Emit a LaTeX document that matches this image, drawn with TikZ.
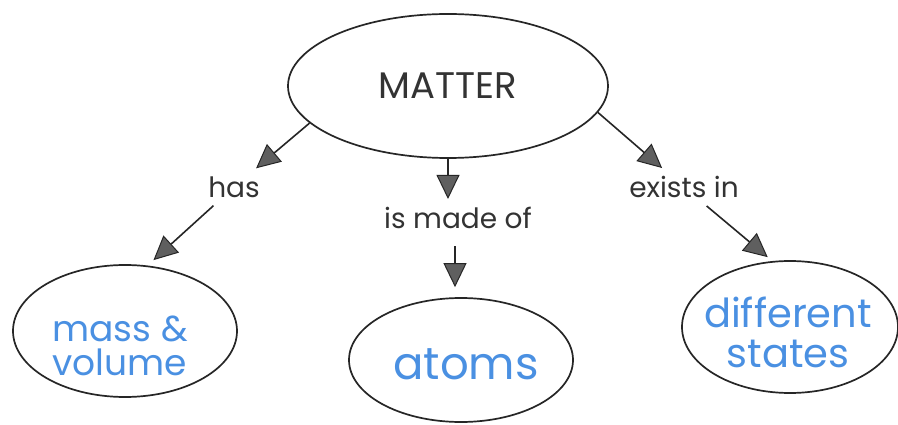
\documentclass[tikz,border=0pt]{standalone}
\usepackage{fontspec}
\setmainfont{Poppins}
\usetikzlibrary{arrows.meta,shapes.geometric}
\definecolor{ink}{RGB}{74,144,226}
\definecolor{tipgray}{RGB}{95,95,95}
\begin{document}
\begin{tikzpicture}[x=1pt,y=-1pt,
  bubble/.style={draw=black!85,line width=1.7pt,ellipse,inner sep=0pt},
  lab/.style={font=\fontsize{28}{32}\selectfont,text=black!80,inner sep=8pt},
  hand/.style={font=\fontsize{36}{34}\selectfont,text=ink,align=center,inner sep=0pt},
  conn/.style={draw=black!85,line width=1.6pt,-{Triangle[length=24pt,width=23pt,fill=tipgray,line width=1pt]}}]
\useasboundingbox[fill=white] (0,0) rectangle (898,425);
% nodes
\node[bubble,minimum width=320pt,minimum height=144pt,font=\fontsize{37}{40}\selectfont,text=black!80] (matter) at (448,86) {MATTER};
\node[lab] (has) at (234,187) {has};
\node[lab] (made) at (458,218) {is made of};
\node[lab] (exists) at (684,187) {exists in};
\node[bubble,minimum width=224pt,minimum height=132pt] (mv) at (125,331) {};
\node[bubble,minimum width=224pt,minimum height=124pt] (atoms) at (461,360) {};
\node[bubble,minimum width=216pt,minimum height=132pt] (ds) at (790,327) {};
\node[hand] (mvtext) at (120,346) {mass \&\\volume};
\node[hand,font=\fontsize{45}{45}\selectfont] (atomstext) at (466,364) {atoms};
\node[hand,font=\fontsize{40}{40}\selectfont] (dstext) at (788,332) {different\\states};
% connectors
\draw[conn] (matter.195) -- (has);
\draw[conn,shorten >=8pt] (has) -- (mv.71);
\draw[conn] (matter.south) -- (matter.south |- made.north);
\draw[conn,shorten <=9pt,shorten >=10pt] ([xshift=-3pt]made.south) -- ([xshift=-3pt]made.south |- atoms.north);
\draw[conn] (matter.-10) -- (exists);
\draw[conn,shorten >=6pt] (exists) -- (ds.105);
\end{tikzpicture}
\end{document}
